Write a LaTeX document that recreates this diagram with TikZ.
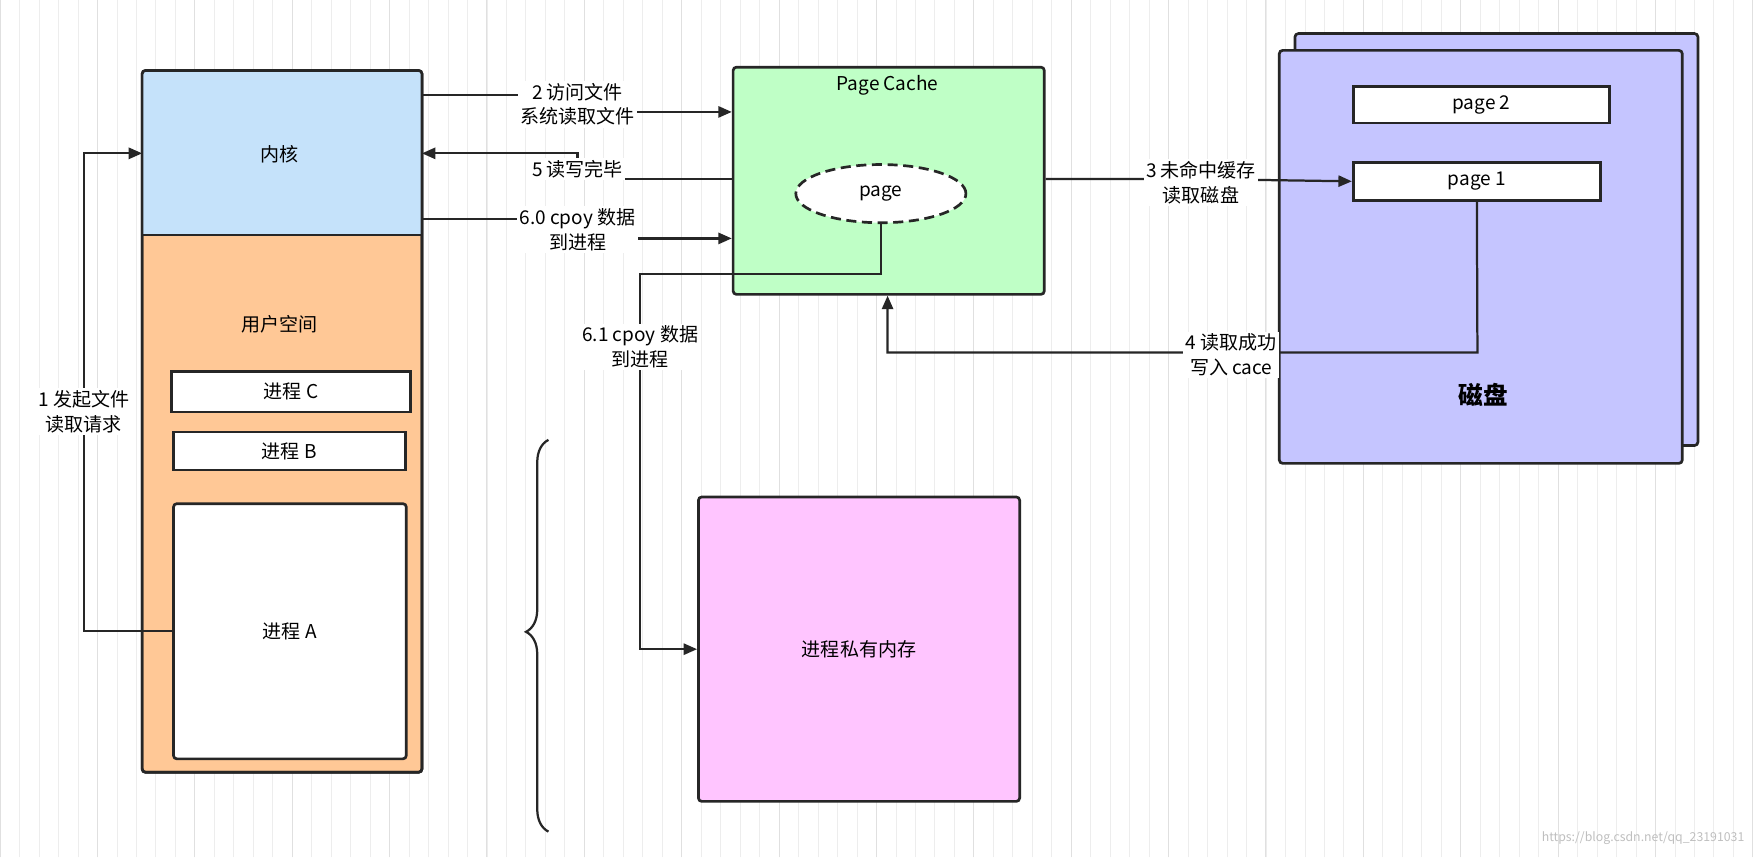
\documentclass[tikz,border=0pt]{standalone}
\usepackage{fontspec}
\setmainfont{Noto Sans CJK SC}
\usetikzlibrary{arrows.meta,shapes.geometric,decorations.pathreplacing,calc}
\begin{document}
\begin{tikzpicture}[x=1pt,y=-1pt,
  box/.style={draw=black!85,line width=2.4pt,rounded corners=3pt,inner sep=0pt},
  lab/.style={fill=white,font=\fontsize{17}{22}\selectfont,align=center,inner sep=2pt},
  txt/.style={font=\fontsize{17}{22}\selectfont,align=center},
  con/.style={draw=black!85,line width=2pt,-{Triangle[length=12pt,width=10pt]}},
  lin/.style={draw=black!85,line width=2pt}]
\useasboundingbox (0,0) rectangle (1568,766);
\fill[white] (0,0) rectangle (1568,766);
\draw[black!7,line width=0.6pt,step=17.4] (0,0) grid (1568,766);
\draw[black!12,line width=0.8pt,step=87] (0,0) grid (1568,766);
% kernel + user space
\draw[box,fill=orange!45!white,fill={rgb,255:red,255;green,200;blue,150}] (127,63) rectangle (377,690);
\path[fill={rgb,255:red,197;green,226;blue,250}] (128.2,64.2) rectangle (375.8,210);
\draw[draw=black!85,line width=2.4pt,rounded corners=3pt] (127,63) rectangle (377,690);
\draw[lin] (127,210) -- (377,210);
\node[txt] (kern) at (250,138) {内核};
\node[txt] at (250,290) {用户空间};
\node[box,fill=white,minimum width=214pt,minimum height=36pt,rounded corners=0pt,txt] (pc) at (260,350) {进程 C};
\node[box,fill=white,minimum width=207pt,minimum height=34pt,rounded corners=0pt,txt] (pb) at (258.5,403) {进程 B};
\node[box,fill=white,minimum width=208pt,minimum height=228pt,txt] (pa) at (259,564) {进程 A};
\coordinate (kN) at (127,63); \coordinate (kR) at (377,137);
% page cache
\node[box,fill={rgb,255:red,191;green,255;blue,198},minimum width=278pt,minimum height=203pt] (cache) at (794,161.5) {};
\node[txt] at (793,76) {Page Cache};
\node[draw=black!85,line width=2.4pt,dash pattern=on 9pt off 5pt,ellipse,fill=white,minimum width=152pt,minimum height=52pt,txt] (pg) at (787,173) {page};
% disk
\draw[box,fill={rgb,255:red,197;green,197;blue,255}] (1157,30) rectangle (1517,398);
\node[box,fill={rgb,255:red,197;green,197;blue,255},minimum width=360pt,minimum height=369pt] (disk) at (1323,229.5) {};
\node[box,fill=white,rounded corners=0pt,minimum width=229pt,minimum height=33pt,txt] (p2) at (1323.5,93.5) {page 2};
\node[box,fill=white,rounded corners=0pt,minimum width=221pt,minimum height=34pt,txt] (p1) at (1319.5,162) {page 1};
\node[font=\fontsize{22}{26}\selectfont\bfseries] at (1325,353) {磁盘};
% private memory
\node[box,fill={rgb,255:red,255;green,197;blue,255},minimum width=287pt,minimum height=272pt,txt] (pm) at (767.5,580) {进程私有内存};
% brace
\draw[line width=2pt,black!85,decorate,decoration={brace,amplitude=20pt,aspect=0.51}] (490,743) -- (490,393);
% connectors
\coordinate (a1) at (75,564); \coordinate (a1b) at (75,137);
\draw[con] (pa.west|-a1) -- (a1) -- (a1b) -- (kN|-a1b);
\node[lab] at (75,368) {1 发起文件\\读取请求};
\draw[con] (377,85) -- (516,85) -- (516,100) -- (cache.west|-0,100);
\node[lab] at (516,93) {2 访问文件\\系统读取文件};
\draw[con] (cache.west|-0,160) -- (516,160) -- (516,137) -- (kR);
\node[lab] at (516,151) {5 读写完毕};
\draw[con] (377,196) -- (516,196) -- (516,213) -- (cache.west|-0,213);
\node[lab] at (516,205) {6.0 cpoy 数据\\到进程};
\draw[con] (cache.east|-0,160) -- (1073,160) -- (p1.west);
\node[lab] at (1073,163) {3 未命中缓存\\读取磁盘};
\draw[con] (p1.south) -- (1320,315) -- (793,315) -- (cache.south-|793,0);
\node[lab] at (1100,317) {4 读取成功\\写入 cace};
\draw[con] (pg.south) -- (787,245) -- (572,245) -- (572,580) -- (pm.west);
\node[lab] at (572,310) {6.1 cpoy 数据\\到进程};
\node[font=\fontsize{11}{13}\selectfont,text=black!25,anchor=east] at (1562,749) {https://blog.csdn.net/qq\_23191031};
\end{tikzpicture}
\end{document}
